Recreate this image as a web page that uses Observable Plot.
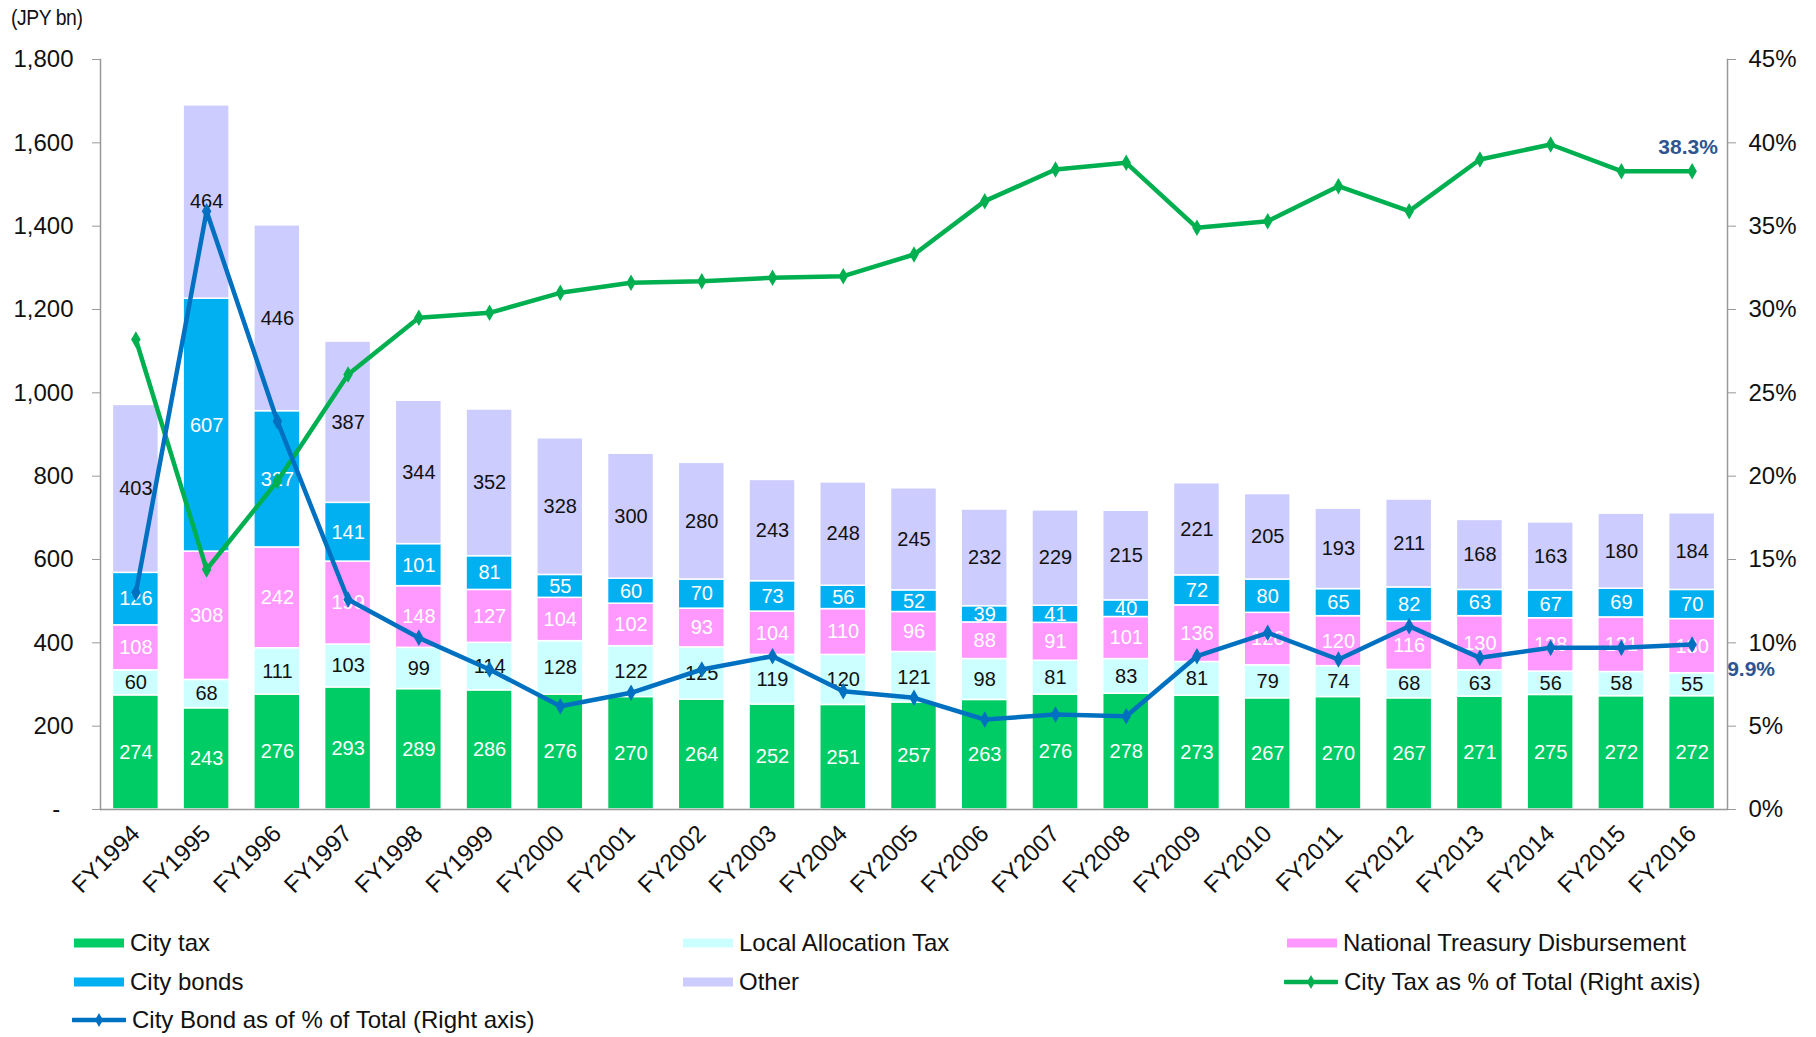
<!DOCTYPE html>
<html><head><meta charset="utf-8">
<script src="https://cdn.jsdelivr.net/npm/d3@7"></script>
<script src="https://cdn.jsdelivr.net/npm/@observablehq/plot@0.6"></script>
<style>
body{margin:0;background:#fff;font-family:"Liberation Sans",Arial,sans-serif;}
#wrap{position:relative;width:1816px;height:1037px;overflow:hidden;}
#unit{position:absolute;left:11px;top:5px;font-size:22px;letter-spacing:-0.5px;color:#111;transform:scaleX(0.88);transform-origin:0 0;}
#chart{position:absolute;left:0;top:0;}
.lg{position:absolute;display:flex;align-items:center;font-size:24px;color:#111;height:30px;white-space:nowrap;}
.lg svg{margin-right:6px;}
</style></head><body>
<div id="wrap"><div id="chart"></div><div id="unit">(JPY bn)</div><div id="legend"></div></div>
<script>
const years = ["FY1994","FY1995","FY1996","FY1997","FY1998","FY1999","FY2000","FY2001","FY2002","FY2003","FY2004","FY2005","FY2006","FY2007","FY2008","FY2009","FY2010","FY2011","FY2012","FY2013","FY2014","FY2015","FY2016"];
const cityTax = [274,243,276,293,289,286,276,270,264,252,251,257,263,276,278,273,267,270,267,271,275,272,272];
const localAllocation = [60,68,111,103,99,114,128,122,125,119,120,121,98,81,83,81,79,74,68,63,56,58,55];
const nationalTreasury = [108,308,242,199,148,127,104,102,93,104,110,96,88,91,101,136,126,120,116,130,128,131,130];
const cityBonds = [126,607,327,141,101,81,55,60,70,73,56,52,39,41,40,72,80,65,82,63,67,69,70];
const other = [403,464,446,387,344,352,328,300,280,243,248,245,232,229,215,221,205,193,211,168,163,180,184];
const cityTaxPct = [28.2,14.4,19.7,26.1,29.5,29.8,31.0,31.6,31.7,31.9,32.0,33.3,36.5,38.4,38.8,34.9,35.3,37.4,35.9,39.0,39.9,38.3,38.3];
const cityBondPct = [13.0,35.9,23.3,12.6,10.3,8.4,6.2,7.0,8.4,9.2,7.1,6.7,5.4,5.7,5.6,9.2,10.6,9.0,11.0,9.1,9.7,9.7,9.9];
const categories = ["City tax","Local Allocation Tax","National Treasury Disbursement","City bonds","Other"];
const catColors = ["#00CC66","#CCFFFF","#FF99FF","#00B0F0","#CCCCFF"];
const whiteLabelCats = ["City tax","National Treasury Disbursement","City bonds"];
const leftTicks = [0,200,400,600,800,1000,1200,1400,1600,1800];
const rightTicks = [0,5,10,15,20,25,30,35,40,45];
const taxLineColor = "#00B050", bondLineColor = "#0070C0", endLabelColor = "#2E5590";

const series = [cityTax, localAllocation, nationalTreasury, cityBonds, other];
const long = [];
years.forEach((y, i) => categories.forEach((c, k) => long.push({year: y, cat: c, value: series[k][i]})));
const lines = years.map((y, i) => ({year: y, tax: cityTaxPct[i], bond: cityBondPct[i]}));
const ratio = 1800 / 45; // right axis % -> left axis units
const last = lines[lines.length - 1];

const font = "'Liberation Sans', Arial, sans-serif";
const plot = Plot.plot({
  width: 1816, height: 905,
  marginLeft: 100, marginRight: 89, marginTop: 59, marginBottom: 96,
  style: {fontFamily: font, fontSize: "24px", color: "#111", background: "white"},
  x: {domain: years, paddingInner: 0.35, paddingOuter: 0.175, round: false, label: null},
  y: {domain: [0, 1800], label: null},
  color: {domain: categories, range: catColors},
  marks: [
    Plot.barY(long, Plot.stackY({x: "year", y: "value", z: "cat", fill: "cat", stroke: "white", strokeWidth: 1.5, order: categories})),
    Plot.text(long, Plot.stackY({x: "year", y: "value", z: "cat", order: categories, text: d => whiteLabelCats.includes(d.cat) ? String(d.value) : null, fill: "white", fontSize: 20})),
    Plot.text(long, Plot.stackY({x: "year", y: "value", z: "cat", order: categories, text: d => whiteLabelCats.includes(d.cat) ? null : String(d.value), fill: "#111", fontSize: 20})),
    Plot.line(lines, {x: "year", y: d => d.tax * ratio, stroke: taxLineColor, strokeWidth: 4.5}),
    Plot.dot(lines, {x: "year", y: d => d.tax * ratio, fill: taxLineColor, symbol: "diamond", r: 5}),
    Plot.line(lines, {x: "year", y: d => d.bond * ratio, stroke: bondLineColor, strokeWidth: 4.5}),
    Plot.dot(lines, {x: "year", y: d => d.bond * ratio, fill: bondLineColor, symbol: "diamond", r: 5}),
    Plot.text([last], {x: "year", y: d => d.tax * ratio, text: d => d.tax.toFixed(1) + "%", dy: -24, dx: -4, fill: endLabelColor, fontWeight: "bold", fontSize: 21}),
    Plot.text([last], {x: "year", y: d => d.bond * ratio, text: d => d.bond.toFixed(1) + "%", dy: 25, dx: 35, textAnchor: "start", fill: endLabelColor, fontWeight: "bold", fontSize: 21}),
    Plot.ruleY([0], {stroke: "#999", strokeWidth: 1.5}),
    Plot.frame({anchor: "left", stroke: "#999", strokeWidth: 1.5}),
    Plot.frame({anchor: "right", stroke: "#999", strokeWidth: 1.5}),
    Plot.axisY(leftTicks, {anchor: "left", tickSize: 8, tickPadding: 19, stroke: "#999", tickFormat: d => d === 0 ? "-\u2007" : d3.format(",")(d), fontSize: 24, fill: "#111"}),
    Plot.axisY(rightTicks.map(t => t * ratio), {anchor: "right", tickSize: 8, tickPadding: 13, stroke: "#999", tickFormat: d => Math.round(d / ratio) + "%", fontSize: 24, fill: "#111"}),
    Plot.axisX({tickRotate: -45, tickSize: 0, tickPadding: 20, fontSize: 24, fill: "#111"})
  ]
});
document.getElementById("chart").appendChild(plot);

// Legend
const legendItems = [
  {label: "City tax", type: "rect", color: catColors[0], left: 74, top: 943},
  {label: "Local Allocation Tax", type: "rect", color: catColors[1], left: 683, top: 943},
  {label: "National Treasury Disbursement", type: "rect", color: catColors[2], left: 1287, top: 943},
  {label: "City bonds", type: "rect", color: catColors[3], left: 74, top: 982},
  {label: "Other", type: "rect", color: catColors[4], left: 683, top: 982},
  {label: "City Tax as % of Total (Right axis)", type: "line", color: taxLineColor, left: 1284, top: 982},
  {label: "City Bond as of % of Total (Right axis)", type: "line", color: bondLineColor, left: 72, top: 1020}
];
const lg = document.getElementById("legend");
legendItems.forEach(it => {
  const d = document.createElement("div");
  d.className = "lg";
  d.style.left = it.left + "px";
  d.style.top = (it.top - 15) + "px";
  const sw = it.type === "rect"
    ? `<svg width="50" height="12"><rect x="0" y="1.5" width="50" height="9" fill="${it.color}"/></svg>`
    : `<svg width="54" height="16"><line x1="1" y1="8" x2="53" y2="8" stroke="${it.color}" stroke-width="4.5" stroke-linecap="round"/><path d="M27,1 L31,8 L27,15 L23,8 Z" fill="${it.color}"/></svg>`;
  d.innerHTML = sw + `<span>${it.label}</span>`;
  lg.appendChild(d);
});
</script>
</body></html>
